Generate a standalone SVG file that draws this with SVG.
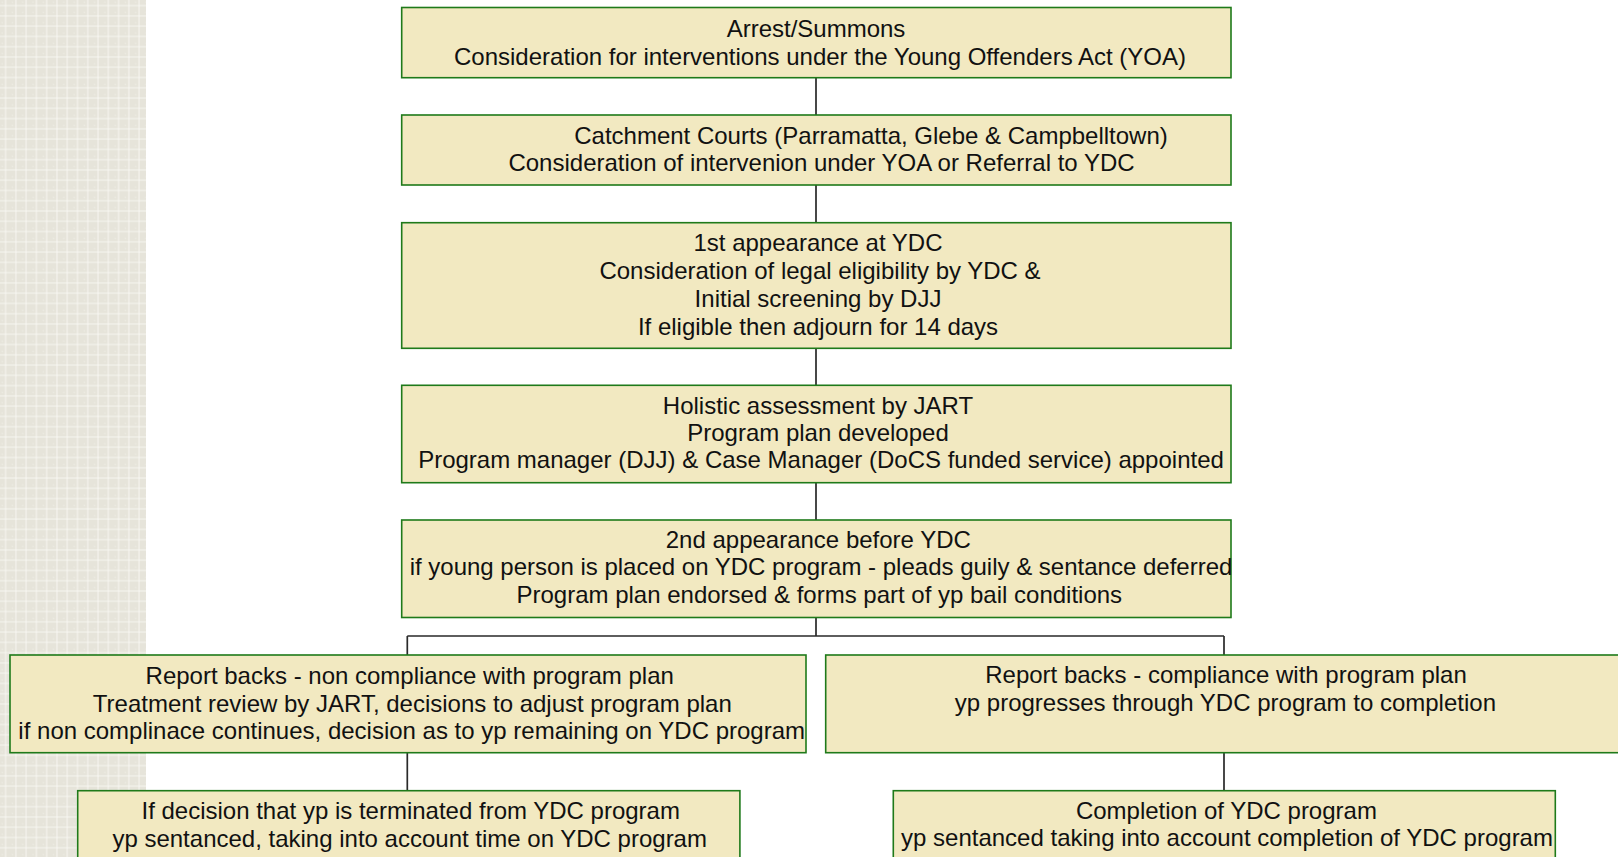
<svg xmlns="http://www.w3.org/2000/svg" width="1618" height="857" viewBox="0 0 1618 857">
<style>
.box{fill:#f2e9c1;stroke:#1f7a1a;stroke-width:1.6}
.t{font-family:'Liberation Sans',Arial,Helvetica,sans-serif;font-size:24px;fill:#111;text-anchor:middle}
.c{fill:none;stroke:#2a2a2a;stroke-width:1.7}
</style>
<defs>
<pattern id="grid" x="0" y="0" width="10.27" height="10.27" patternUnits="userSpaceOnUse">
<rect width="10.27" height="10.27" fill="#e6e4da"/>
<rect x="1.5" y="1.5" width="1.5" height="1.5" fill="#ecebe2"/>
<rect x="5" y="5" width="1.5" height="1.5" fill="#ecebe2"/>
<path d="M5.6 0V10.27M0 5.6H10.27" stroke="#f7f6f1" stroke-width="1"/>
</pattern>
</defs>
<rect width="1618" height="857" fill="#ffffff"/>
<rect x="0" y="0" width="146" height="857" fill="url(#grid)"/>
<g id="connectors">
<path class="c" d="M816 77.7V115M816 185V222.7M816 348.3V385.3M816 482.7V520M816 617.5V636M407.3 636H1224M407.3 636V655M1224 636V655M407.3 752.7V790.7M1224 752.7V790.7"/>
</g>
<g id="n1">
<rect class="box" x="401.7" y="7.5" width="829.3" height="70.2"/>
<text class="t" x="816" y="37">Arrest/Summons</text>
<text class="t" x="820" y="64.5">Consideration for interventions under the Young Offenders Act (YOA)</text>
</g>
<g id="n2">
<rect class="box" x="401.7" y="115" width="829.3" height="70"/>
<text class="t" x="871" y="144">Catchment Courts (Parramatta, Glebe &amp; Campbelltown)</text>
<text class="t" x="821.5" y="171">Consideration of intervenion under YOA or Referral to YDC</text>
</g>
<g id="n3">
<rect class="box" x="401.7" y="222.7" width="829.3" height="125.6"/>
<text class="t" x="818" y="251">1st appearance at YDC</text>
<text class="t" x="820" y="279">Consideration of legal eligibility by YDC &amp;</text>
<text class="t" x="818" y="307">Initial screening by DJJ</text>
<text class="t" x="818" y="334.5">If eligible then adjourn for 14 days</text>
</g>
<g id="n4">
<rect class="box" x="401.7" y="385.3" width="829.3" height="97.4"/>
<text class="t" x="818" y="414.3">Holistic assessment by JART</text>
<text class="t" x="818" y="441.3">Program plan developed</text>
<text class="t" x="821" y="468.3">Program manager (DJJ) &amp; Case Manager (DoCS funded service) appointed</text>
</g>
<g id="n5">
<rect class="box" x="401.7" y="520" width="829.3" height="97.5"/>
<text class="t" x="818.3" y="547.7">2nd appearance before YDC</text>
<text class="t" x="821" y="575">if young person is placed on YDC program - pleads guily &amp; sentance deferred</text>
<text class="t" x="819.3" y="602.7">Program plan endorsed &amp; forms part of yp bail conditions</text>
</g>
<g id="n6">
<rect class="box" x="10" y="655" width="796" height="97.7"/>
<text class="t" x="409.7" y="683.7">Report backs - non compliance with program plan</text>
<text class="t" x="412.3" y="711.5">Treatment review by JART, decisions to adjust program plan</text>
<text class="t" x="411.7" y="738.7">if non complinace continues, decision as to yp remaining on YDC program</text>
</g>
<g id="n7">
<rect class="box" x="825.7" y="655" width="796.6" height="97.7"/>
<text class="t" x="1226" y="682.7">Report backs - compliance with program plan</text>
<text class="t" x="1225.4" y="711">yp progresses through YDC program to completion</text>
</g>
<g id="n8">
<rect class="box" x="77.7" y="790.7" width="662.2" height="80"/>
<text class="t" x="410.7" y="819.3">If decision that yp is terminated from YDC program</text>
<text class="t" x="409.7" y="846.5">yp sentanced, taking into account time on YDC program</text>
</g>
<g id="n9">
<rect class="box" x="893.3" y="790.7" width="662" height="80"/>
<text class="t" x="1226.4" y="818.5">Completion of YDC program</text>
<text class="t" x="1227" y="846">yp sentanced taking into account completion of YDC program</text>
</g>
</svg>
